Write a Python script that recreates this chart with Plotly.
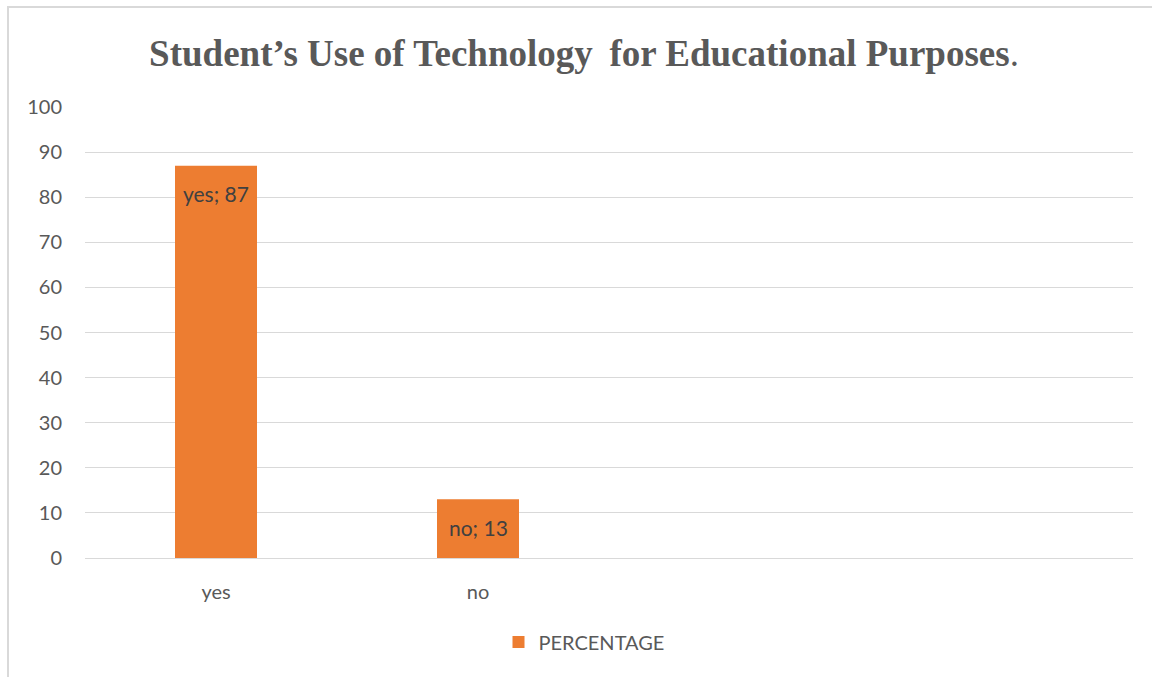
import plotly.graph_objects as go

# Survey responses
categories = ["yes", "no", " ", "  "]
percentages = [87, 13, None, None]
series_name = "PERCENTAGE"
y_ticks = [0, 10, 20, 30, 40, 50, 60, 70, 80, 90, 100]

W, H = 1152, 677
L, R, T, B = 85, 19, 107, 119
plot_w = W - L - R
plot_h = H - T - B

LABEL_FONT = "Lato, Open Sans, sans-serif"

fig = go.Figure()
fig.add_trace(go.Bar(
    x=categories,
    y=percentages,
    name=series_name,
    marker=dict(color="#ED7D31", line=dict(width=0)),
    width=0.313,
    showlegend=True,
    hoverinfo="skip",
))

# Data labels ("category; value") just inside the top of each bar
for c, v in zip(categories, percentages):
    if v is None:
        continue
    fig.add_annotation(
        x=c, y=v, xref="x", yref="y",
        text=f"{c}; {v}",
        showarrow=False,
        yanchor="middle", yshift=-28,
        font=dict(family=LABEL_FONT, size=21, color="#404040"),
    )

# Chart-area frame (top and left edges)
px_x = lambda px: (px - L) / plot_w
px_y = lambda py: (H - B - py) / plot_h
fig.add_shape(type="rect", xref="paper", yref="paper",
              x0=px_x(8), x1=px_x(1200), y0=px_y(720), y1=px_y(7),
              line=dict(color="#d9d9d9", width=2), fillcolor="rgba(0,0,0,0)", layer="below")

fig.update_layout(
    width=W, height=H,
    margin=dict(l=L, r=R, t=T, b=B, autoexpand=False),
    paper_bgcolor="white",
    plot_bgcolor="white",
    title=dict(
        text="<b>Student’s Use of Technology\u2009 for Educational Purposes</b>.",
        font=dict(family="Liberation Serif, Times New Roman, serif", size=37, color="#595959"),
        x=584 / W, xanchor="center", xref="container",
        y=1 - 53 / H, yanchor="middle", yref="container",
    ),
    xaxis=dict(
        type="category",
        categoryorder="array", categoryarray=categories,
        range=[-0.5, len(categories) - 0.5],
        showgrid=False, showline=False, zeroline=False,
        ticks="", ticklen=0,
        ticklabelstandoff=20,
        tickfont=dict(family=LABEL_FONT, size=20, color="#595959"),
    ),
    yaxis=dict(
        range=[0, 100],
        tickvals=y_ticks,
        showgrid=True, gridcolor="#d9d9d9", gridwidth=1,
        zeroline=True, zerolinecolor="#d9d9d9", zerolinewidth=1,
        showline=False, ticks="",
        ticklabelstandoff=22,
        tickfont=dict(family=LABEL_FONT, size=20, color="#595959"),
    ),
    legend=dict(
        orientation="h",
        x=px_x(584), xanchor="center",
        y=px_y(642), yanchor="middle",
        font=dict(family=LABEL_FONT, size=20, color="#595959"),
        itemwidth=30,
        bgcolor="rgba(0,0,0,0)",
    ),
    bargap=0.687,
)

fig.write_html("out.html")
